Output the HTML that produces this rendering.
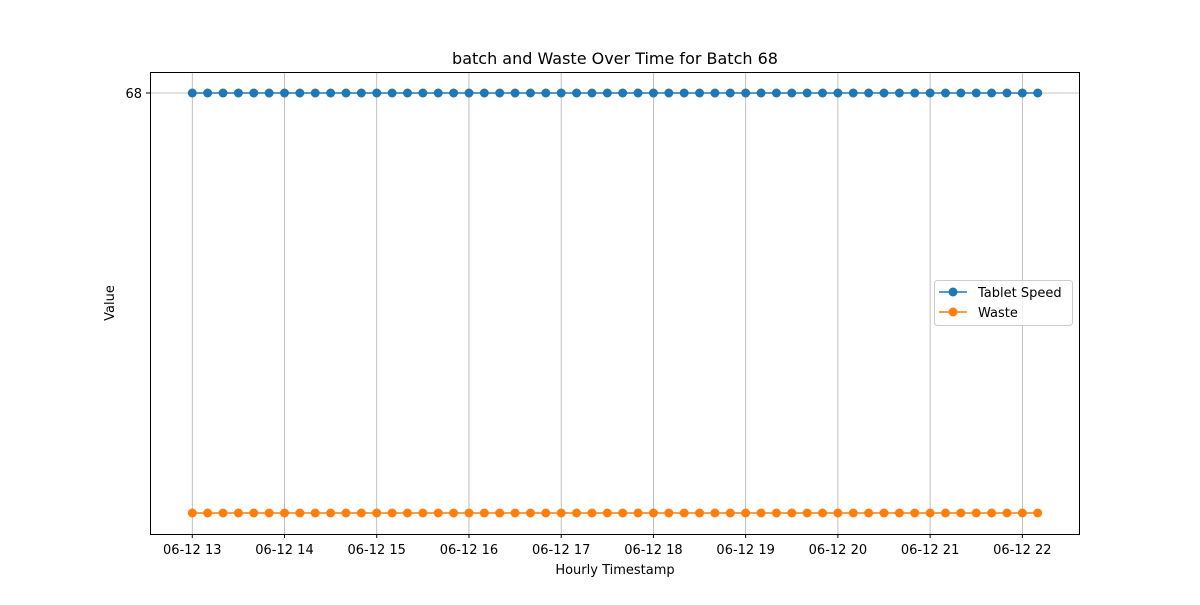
<!DOCTYPE html>
<html><head><meta charset="utf-8"><style>
body{margin:0;background:#fff}
svg text{font-family:"DejaVu Sans","Liberation Sans",sans-serif;fill:#000}
</style></head><body>
<svg id="c" width="1200" height="600" xmlns="http://www.w3.org/2000/svg">
<rect width="1200" height="600" fill="#fff"/>
<g id="grid"></g>
<g id="lines"></g>
<rect x="150.5" y="72.5" width="929" height="462" fill="none" stroke="#000" stroke-width="1"/>
<g id="ticks"></g>
<text x="615" y="64" font-size="16" text-anchor="middle">batch and Waste Over Time for Batch 68</text>
<text x="615" y="574" font-size="13" text-anchor="middle">Hourly Timestamp</text>
<text transform="translate(114,303) rotate(-90)" font-size="13" text-anchor="middle">Value</text>
<g>
<rect x="934.5" y="280.5" width="138" height="45" rx="3" fill="#fff" fill-opacity="0.8" stroke="#ccc"/>
<g><line x1="939" y1="292" x2="967" y2="292" stroke="#1f77b4" stroke-width="1.5"/><circle cx="953" cy="292" r="4.5" fill="#1f77b4"/><text x="978" y="297" font-size="13">Tablet Speed</text></g>
<g><line x1="939" y1="312" x2="967" y2="312" stroke="#ff7f0e" stroke-width="1.5"/><circle cx="953" cy="312" r="4.5" fill="#ff7f0e"/><text x="978" y="317" font-size="13">Waste</text></g>
</g>
</svg>
<script>
const hourLabels=["06-12 13","06-12 14","06-12 15","06-12 16","06-12 17","06-12 18","06-12 19","06-12 20","06-12 21","06-12 22"];
const tabletSpeed=[68,68,68,68,68,68,68,68,68,68,68,68,68,68,68,68,68,68,68,68,68,68,68,68,68,68,68,68,68,68,68,68,68,68,68,68,68,68,68,68,68,68,68,68,68,68,68,68,68,68,68,68,68,68,68,68];
const waste=[0,0,0,0,0,0,0,0,0,0,0,0,0,0,0,0,0,0,0,0,0,0,0,0,0,0,0,0,0,0,0,0,0,0,0,0,0,0,0,0,0,0,0,0,0,0,0,0,0,0,0,0,0,0,0,0];
const yTicks=[68];
const NS="http://www.w3.org/2000/svg";
const n=tabletSpeed.length; // 10-minute steps
const xMinH=0, xMaxH=(n-1)/6;
const span=xMaxH-xMinH;
const L=150,R=1080,T=72,B=534;
const x=h=>L+(R-L)*(h-(xMinH-span*0.05))/(span*1.1);
const all=tabletSpeed.concat(waste);
const ymin=Math.min(...all), ymax=Math.max(...all), ys=(ymax-ymin)||1;
const y=v=>B-(B-T)*(v-(ymin-ys*0.05))/(ys*1.1);
function mk(tag,attrs,parent){const e=document.createElementNS(NS,tag);for(const k in attrs)e.setAttribute(k,attrs[k]);parent.appendChild(e);return e;}
const grid=document.getElementById('grid'),ticks=document.getElementById('ticks'),lines=document.getElementById('lines');
hourLabels.forEach((lab,i)=>{
  const px=x(i);
  const g=mk('line',{x1:px,x2:px,y1:T,y2:B,stroke:'#b0b0b0','stroke-width':0.8},grid);
  
  
  mk('line',{x1:px,x2:px,y1:B,y2:B+4,stroke:'#000'},ticks);
  const t=mk('text',{x:px,y:B+20,'font-size':13,'text-anchor':'middle'},ticks);
  t.textContent=lab;
  
  
});
yTicks.forEach(v=>{
  const py=y(v);
  const g=mk('line',{x1:L,x2:R,y1:py,y2:py,stroke:'#b0b0b0','stroke-width':0.8},grid);
  
  
  mk('line',{x1:L-4,x2:L,y1:py,y2:py,stroke:'#000'},ticks);
  const t=mk('text',{x:L-8,y:py+5,'font-size':13,'text-anchor':'end'},ticks);
  t.textContent=v;
  
  
});
function series(vals,color,name){
  const g=mk('g',{},lines);
  
  
  const pts=vals.map((v,i)=>x(i/6)+','+y(v)).join(' ');
  mk('polyline',{points:pts,fill:'none',stroke:color,'stroke-width':1.5},g);
  vals.forEach((v,i)=>{
    const c=mk('circle',{cx:x(i/6),cy:y(v),r:4.5,fill:color},g);
    
    
  });
}
series(tabletSpeed,'#1f77b4','tablet-speed');
series(waste,'#ff7f0e','waste');
</script>
</body></html>
